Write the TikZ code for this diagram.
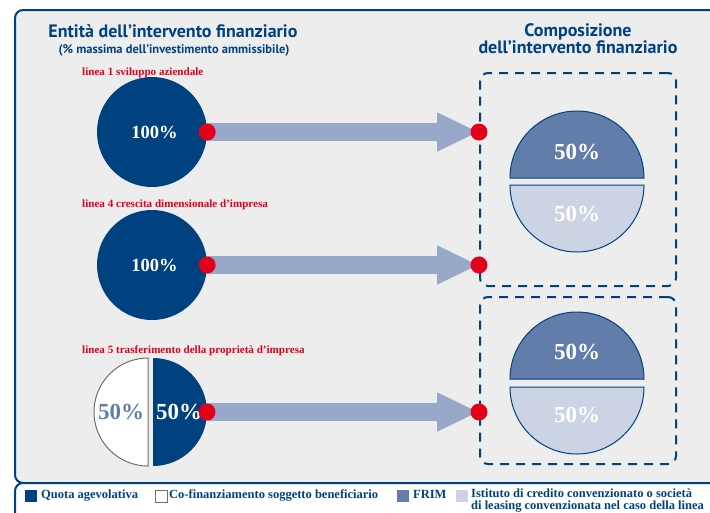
\documentclass[tikz,border=0pt]{standalone}
\usepackage{fontspec}
\setmainfont{Liberation Serif}
\newfontfamily\titolofont{PT Sans}
\usetikzlibrary{calc,arrows.meta}
\definecolor{bluscuro}{HTML}{00427F}
\definecolor{rosso}{HTML}{E2001A}
\definecolor{azzurro}{HTML}{97A8C8}
\definecolor{frim}{HTML}{627DAA}
\definecolor{istituto}{HTML}{CBD3E5}
\definecolor{fondo}{HTML}{EDEDED}
\definecolor{grigiobordo}{HTML}{6F6F6F}
\tikzstyle{titolo} = [text=bluscuro, font=\titolofont\bfseries\fontsize{18}{20}\selectfont, anchor=base, inner sep=0pt]
\tikzstyle{sottotitolo} = [text=bluscuro, font=\titolofont\bfseries\fontsize{12.5}{14}\selectfont, anchor=base, inner sep=0pt]
\tikzstyle{etichetta} = [text=rosso, font=\bfseries\fontsize{11.1}{12}\selectfont, anchor=base west, inner sep=0pt]
\tikzstyle{pieno} = [circle, fill=bluscuro, text=white, minimum size=110pt, inner sep=0pt, font=\bfseries\fontsize{18.5}{20}\selectfont]
\tikzstyle{cinquanta} = [inner sep=0pt, font=\bfseries\fontsize{23}{25}\selectfont]
\tikzstyle{puntorosso} = [circle, fill=rosso, minimum size=17pt, inner sep=0pt]
\tikzstyle{freccia} = [line width=18pt, color=azzurro, -{Triangle[length=42pt,width=36pt]}]
\tikzstyle{riquadro} = [rectangle, draw=bluscuro, line width=2pt, dash pattern=on 9pt off 7pt, rounded corners=8pt, minimum width=196pt]
\tikzstyle{voce} = [text=bluscuro, font=\bfseries\fontsize{12.5}{12}\selectfont, anchor=base west, inner sep=0pt]
\tikzstyle{quadretto} = [rectangle, minimum size=12pt, inner sep=0pt]

\begin{document}
\begin{tikzpicture}[x=1pt,y=1pt]
    \useasboundingbox (0,0) rectangle (710,-512);
    \clip (0,0) rectangle (710,-512);
    \fill[white] (0,0) rectangle (710,-512);
    % pannello e legenda
    \draw[draw=bluscuro, line width=2pt, fill=fondo, rounded corners=8pt] (15,-10) rectangle (740,-483);
    \draw[draw=bluscuro, line width=2pt, fill=white, rounded corners=8pt] (15,-483) rectangle (740,-540);

    \node (titoloA) [titolo] at (173,-37) {Entità dell’intervento finanziario};
    \node (sottotitoloA) [sottotitolo] at (174,-53) {(\% massima dell’investimento ammissibile)};
    \node (titoloB) [titolo] at (578,-36) {Composizione};
    \node (titoloB2) [titolo] at (578,-53) {dell’intervento finanziario};

    \node (linea1) [etichetta] at (82,-75) {linea 1 sviluppo aziendale};
    \node (linea4) [etichetta] at (82,-207) {linea 4 crescita dimensionale d’impresa};
    \node (linea5) [etichetta] at (82,-353) {linea 5 trasferimento della proprietà d’impresa};

    \node (c1) [pieno] at (152,-132) {\hspace{5pt}100\%};
    \node (c2) [pieno] at (152,-265) {\hspace{5pt}100\%};
    \draw[draw=grigiobordo, line width=1pt, fill=white] (148,-358) arc (90:270:54) -- cycle;
    \fill[bluscuro] (153,-358) arc (90:-90:54) -- cycle;
    \node (quotaA) [cinquanta, text=frim] at (121,-412) {50\%};
    \node (quotaB) [cinquanta, text=white] at (179,-412) {50\%};
    \coordinate (c3) at (207,-412);

    \node (b1) [riquadro, minimum height=213pt] at (578,-179.5) {};
    \node (b2) [riquadro, minimum height=167pt] at (578,-380.5) {};

    \draw[draw=bluscuro, line width=1pt, fill=frim] (510,-178) arc (180:0:67) -- cycle;
    \draw[draw=bluscuro, line width=1pt, fill=istituto] (510,-185) arc (180:360:67) -- cycle;
    \node (frimA) [cinquanta, text=white] at (577,-152) {50\%};
    \node (istitutoA) [cinquanta, text=white] at (577,-214) {50\%};
    \draw[draw=bluscuro, line width=1pt, fill=frim] (510,-379) arc (180:0:67) -- cycle;
    \draw[draw=bluscuro, line width=1pt, fill=istituto] (510,-387) arc (180:360:67) -- cycle;
    \node (frimB) [cinquanta, text=white] at (577,-352) {50\%};
    \node (istitutoB) [cinquanta, text=white] at (577,-415) {50\%};

    \draw[freccia] (c1.east) -- (c1.east -| b1.west);
    \draw[freccia] (c2.east) -- (c2.east -| b1.west);
    \draw[freccia] (c3) -- (c3 -| b2.west);
    \node (d1) [puntorosso] at (c1.east) {};
    \node (e1) [puntorosso] at (c1.east -| b1.west) {};
    \node (d2) [puntorosso] at (c2.east) {};
    \node (e2) [puntorosso] at (c2.east -| b1.west) {};
    \node (d3) [puntorosso] at (c3) {};
    \node (e3) [puntorosso] at (c3 -| b2.west) {};

    % legenda
    \node (q1) [quadretto, fill=bluscuro] at (31,-496) {};
    \node (v1) [voce] at (41,-498) {Quota agevolativa};
    \node (q2) [quadretto, fill=white, draw=grigiobordo] at (161,-496) {};
    \node (v2) [voce] at (169,-498) {Co-finanziamento soggetto beneficiario};
    \node (q3) [quadretto, fill=frim] at (403,-496) {};
    \node (v3) [voce] at (413,-498) {FRIM};
    \node (q4) [quadretto, fill=istituto] at (462,-496) {};
    \node (v4) [voce, align=left] at (471,-509.5) {Istituto di credito convenzionato o società\\di leasing convenzionata nel caso della linea};
\end{tikzpicture}
\end{document}
